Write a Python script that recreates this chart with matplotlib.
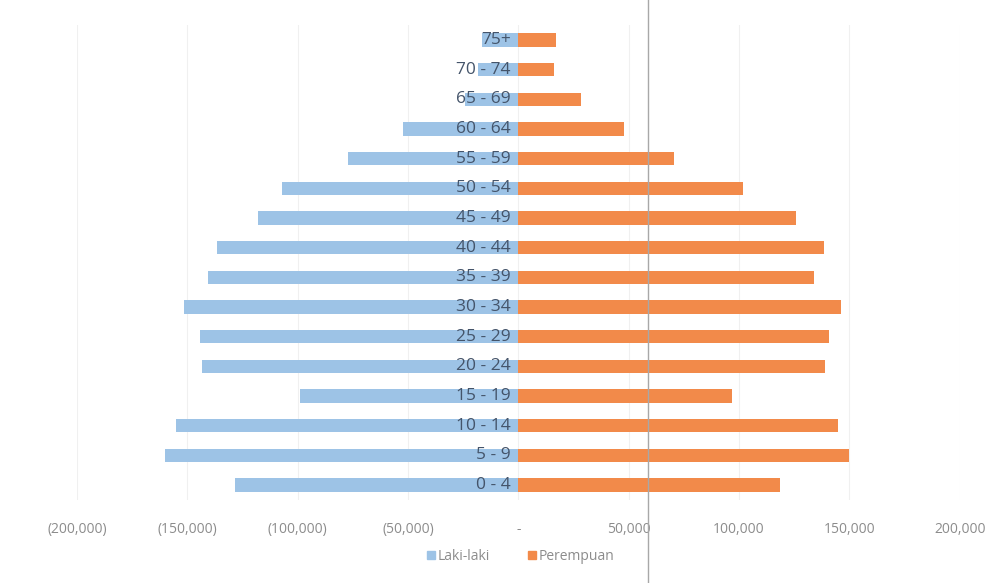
import matplotlib
matplotlib.use("Agg")
import matplotlib.pyplot as plt
from matplotlib.ticker import FuncFormatter
from matplotlib.lines import Line2D

# age groups, bottom to top
age_groups = ["0 - 4", "5 - 9", "10 - 14", "15 - 19", "20 - 24", "25 - 29",
              "30 - 34", "35 - 39", "40 - 44", "45 - 49", "50 - 54", "55 - 59",
              "60 - 64", "65 - 69", "70 - 74", "75+"]
laki_laki = [128500, 160000, 155000, 99000, 143500, 144500, 151500, 140500,
             136500, 118000, 107000, 77000, 52500, 24000, 18500, 16500]
perempuan = [118500, 150000, 145000, 97000, 139000, 141000, 146000, 134000,
             138500, 126000, 102000, 70500, 48000, 28500, 16000, 17000]
x_ticks = [-200000, -150000, -100000, -50000, 0, 50000, 100000, 150000, 200000]

BLUE = "#9DC3E6"
ORANGE = "#F28A4A"
LABEL = "#44546A"
GREY = "#8C8C8C"

plt.rcParams['font.family'] = ['Open Sans', 'DejaVu Sans']

fig = plt.figure(figsize=(10.07, 5.83), dpi=100)
ax = fig.add_axes([0.0765, 0.1427, 0.8765, 0.8141])

pos = list(range(len(age_groups)))
ax.barh(pos, [-v for v in laki_laki], height=0.45, color=BLUE, zorder=2)
ax.barh(pos, perempuan, height=0.45, color=ORANGE, zorder=2)

for i, name in enumerate(age_groups):
    ax.text(-3500, i, name, ha='right', va='center', fontsize=12.5,
            color=LABEL, zorder=3)

ax.set_xlim(-200000, 200000)
ax.set_ylim(-0.5, len(age_groups) - 0.5)
ax.set_xticks(x_ticks)


def fmt(v, _):
    if v == 0:
        return "-"
    if v < 0:
        return "({:,.0f})".format(-v)
    return "{:,.0f}".format(v)


ax.xaxis.set_major_formatter(FuncFormatter(fmt))
ax.tick_params(axis='x', length=0, pad=16, labelsize=10, labelcolor=GREY)
ax.set_yticks([])
ax.grid(axis='x', color='#F0F0F0', lw=0.8, zorder=0)
for s in ax.spines.values():
    s.set_visible(False)

handles = [Line2D([], [], marker='s', ls='', color=BLUE, markersize=6),
           Line2D([], [], marker='s', ls='', color=ORANGE, markersize=6)]
fig.legend(handles, ["Laki-laki", "Perempuan"], loc='center',
           bbox_to_anchor=(0.516, 0.045), ncol=2, frameon=False,
           fontsize=10, labelcolor=GREY, handlelength=0.8,
           handletextpad=0.1, columnspacing=2.6)

# thin scan line that runs through the whole picture
fig.add_artist(Line2D([0.6435, 0.6435], [0, 1], color='#A8A8A8', lw=1,
                      transform=fig.transFigure))

fig.savefig("out.png", dpi=100, facecolor='white')
